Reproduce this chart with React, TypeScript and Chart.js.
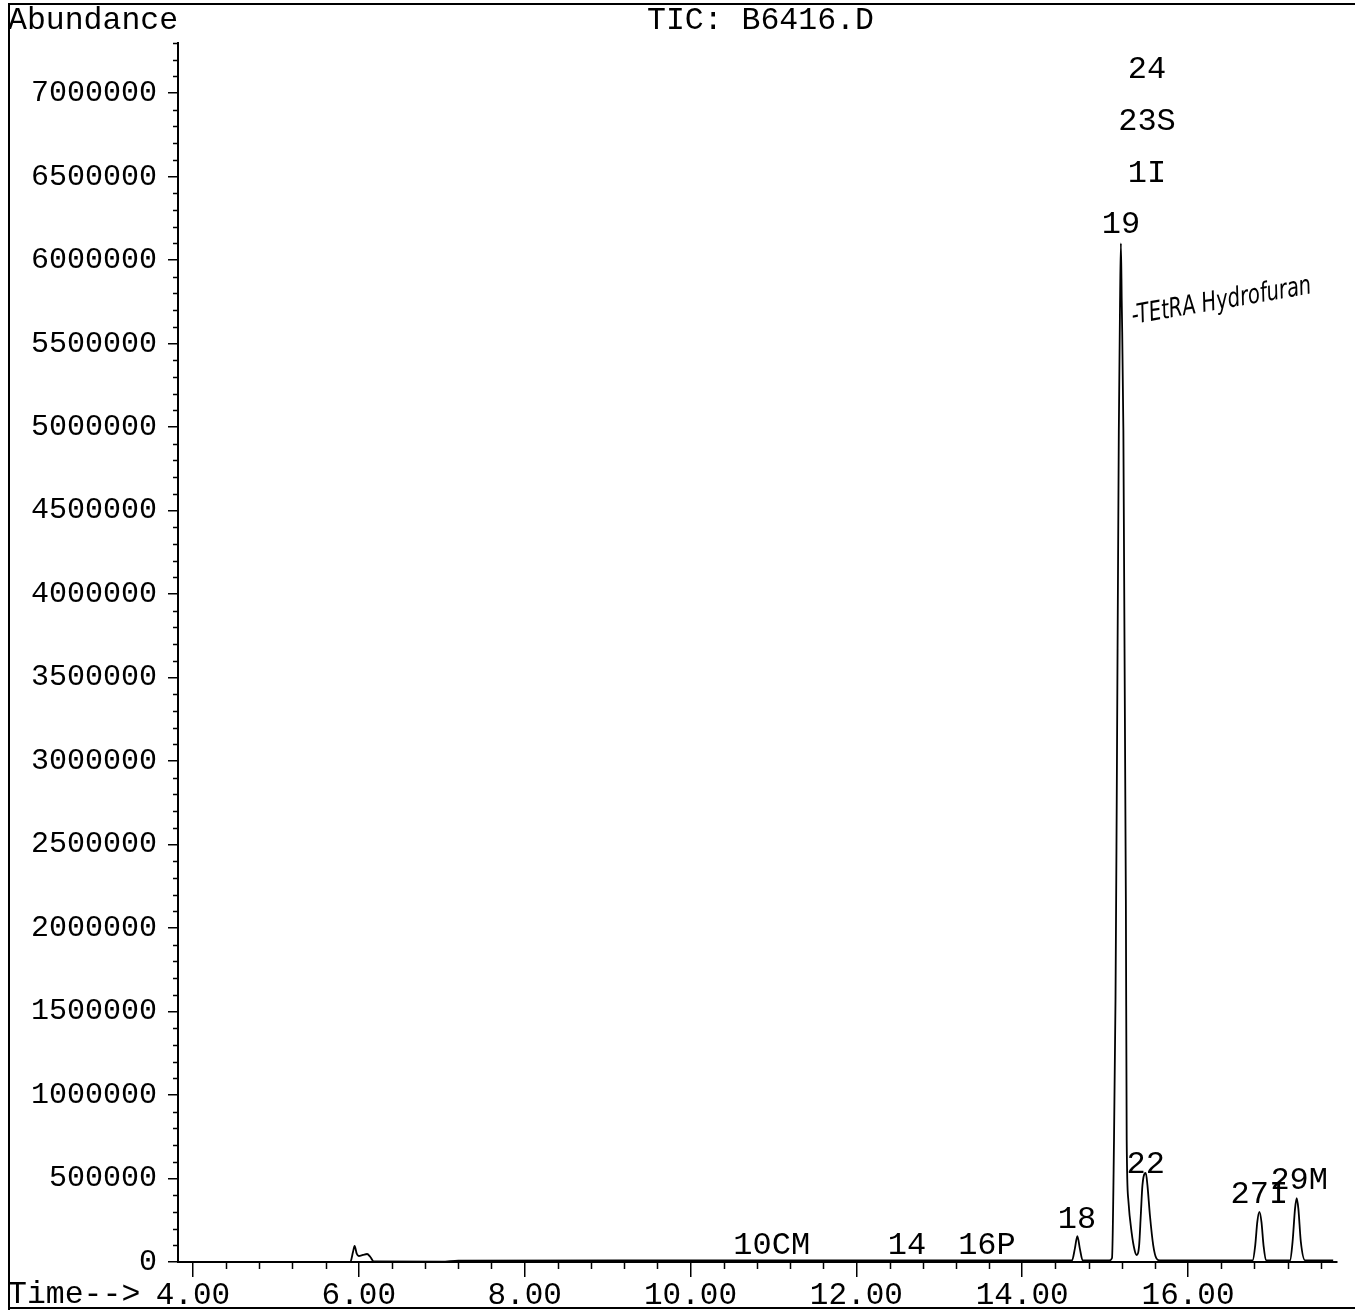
import React, { useEffect, useRef } from 'react';
import { Chart, registerables } from 'chart.js';
Chart.register(...registerables);

// Retention time (min) and total ion abundance
const TIME = [
  3.85, 5.85, 5.90, 5.93, 5.95, 5.975, 6.00, 6.05, 6.10, 6.14, 6.18,
  7.0, 7.2, 10.0, 12.0, 14.55,
  14.60, 14.635, 14.665, 14.695, 14.73,
  15.05, 15.083, 15.107, 15.125, 15.14, 15.165, 15.18, 15.19, 15.20, 15.22, 15.25, 15.26, 15.28, 15.32, 15.355, 15.38,
  15.41, 15.43, 15.45, 15.49, 15.51, 15.54, 15.58, 15.62, 15.66,
  16.75, 16.78, 16.81, 16.835, 16.86, 16.885, 16.91, 16.94,
  17.20, 17.23, 17.26, 17.29, 17.31, 17.33, 17.36, 17.41, 17.75,
];
const ABUNDANCE = [
  0, 0, 2000, 60000, 96000, 50000, 36000, 42000, 48000, 30000, 3000,
  2000, 8000, 9000, 9000, 9000,
  9000, 80000, 155000, 80000, 9000,
  9000, 24000, 730000, 1570000, 2770000, 4980000, 5760000, 6100000, 5760000, 4980000, 2170000, 730000, 370000, 174000, 72000, 42000,
  100000, 280000, 460000, 533000, 460000, 280000, 100000, 20000, 9000,
  9000, 10000, 100000, 240000, 300000, 240000, 100000, 10000,
  9000, 10000, 120000, 320000, 383000, 320000, 120000, 10000, 9000,
];

const X_MAJOR = [4, 6, 8, 10, 12, 14, 16];
const X_MINOR_STEP = 0.4;
const Y_MAJOR = [0, 500000, 1000000, 1500000, 2000000, 2500000, 3000000, 3500000, 4000000, 4500000, 5000000, 5500000, 6000000, 6500000, 7000000];
const Y_MINOR_STEP = 100000;

const PEAK_LABELS = ['10CM', '14', '16P', '18', '19', '1I', '23S', '24', '22', '27I', '29M'];
const PEAK_LABEL_TIME = [10.98, 12.61, 13.575, 14.66, 15.19, 15.505, 15.505, 15.505, 15.49, 16.86, 17.34];
const PEAK_LABEL_ABUND = [48000, 48000, 48000, 204000, 6160000, 6470000, 6780000, 7090000, 533000, 353000, 437000];

const TITLE = 'TIC: B6416.D';
const Y_TITLE = 'Abundance';
const X_TITLE = 'Time-->';
const NOTE = '-TEtRA Hydrofuran';

const FONT = '"Liberation Mono", "Courier New", monospace';

export default function App() {
  const ref = useRef<HTMLCanvasElement | null>(null);
  useEffect(() => {
    if (!ref.current) return;
    const decor = {
      id: 'decor',
      afterDraw(chart: any) {
        const { ctx, scales } = chart;
        const x = scales.x, y = scales.y;
        const area = chart.chartArea;
        ctx.save();
        ctx.strokeStyle = '#000';
        ctx.lineWidth = 1.5;
        ctx.beginPath();
        for (let v = 4; v <= x.max + 1e-9; v += X_MINOR_STEP) {
          const vv = Math.round(v * 10) / 10;
          if (X_MAJOR.includes(vv)) continue;
          const px = Math.round(x.getPixelForValue(vv)) + 0.5;
          ctx.moveTo(px, area.bottom);
          ctx.lineTo(px, area.bottom + 7);
        }
        for (let v = 0; v <= y.max + 1; v += Y_MINOR_STEP) {
          if (Y_MAJOR.includes(v)) continue;
          const py = Math.round(y.getPixelForValue(v)) + 0.5;
          ctx.moveTo(area.left - 5, py);
          ctx.lineTo(area.left, py);
        }
        ctx.stroke();
        // frame
        ctx.lineWidth = 2;
        ctx.beginPath();
        ctx.moveTo(9, 1310);
        ctx.lineTo(9, 4);
        ctx.lineTo(1355, 4);
        ctx.moveTo(9, 1308);
        ctx.lineTo(1355, 1308);
        ctx.stroke();
        // texts
        ctx.fillStyle = '#000';
        ctx.font = `31.5px ${FONT}`;
        ctx.textBaseline = 'alphabetic';
        ctx.textAlign = 'left';
        ctx.fillText(Y_TITLE, 8, 29);
        ctx.fillText(TITLE, 647, 29);
        ctx.fillText(X_TITLE, 8, 1303);
        ctx.font = `32px ${FONT}`;
        ctx.textAlign = 'center';
        PEAK_LABELS.forEach((lab, i) => {
          ctx.fillText(lab, x.getPixelForValue(PEAK_LABEL_TIME[i]), y.getPixelForValue(PEAK_LABEL_ABUND[i]));
        });
        // handwritten note
        ctx.save();
        ctx.translate(1133, 324);
        ctx.rotate(-0.17);
        ctx.font = `italic 27px "DejaVu Sans", sans-serif`;
        ctx.textAlign = 'left';
        const w = ctx.measureText(NOTE).width;
        ctx.scale(182 / w, 1);
        ctx.fillText(NOTE, 0, 0);
        ctx.restore();
        ctx.restore();
      },
    };
    const chart = new Chart(ref.current, {
      type: 'line',
      data: {
        datasets: [
          {
            data: TIME.map((t, i) => ({ x: t, y: ABUNDANCE[i] })),
            borderColor: '#000',
            borderWidth: 1.8,
            pointRadius: 0,
            cubicInterpolationMode: 'monotone',
            fill: false,
          },
        ],
      },
      options: {
        responsive: false,
        animation: false,
        devicePixelRatio: 1,
        layout: { padding: { left: 0, top: 43, right: 18, bottom: 0 } },
        plugins: { legend: { display: false }, tooltip: { enabled: false }, title: { display: false } },
        scales: {
          x: {
            type: 'linear',
            min: 3.82,
            max: 17.796,
            afterFit: (s: any) => { s.height = 48; },
            afterBuildTicks: (s: any) => { s.ticks = X_MAJOR.map((v) => ({ value: v })); },
            ticks: {
              color: '#000',
              font: { family: FONT, size: 31 },
              padding: 0,
              maxRotation: 0,
              autoSkip: false,
              callback: (v: any) => Number(v).toFixed(2),
            },
            grid: { drawOnChartArea: false, drawTicks: true, tickLength: 15, color: '#000', lineWidth: 1.5 },
            border: { display: true, color: '#000', width: 2 },
          },
          y: {
            type: 'linear',
            min: 0,
            max: 7300000,
            afterFit: (s: any) => { s.width = 178; },
            afterBuildTicks: (s: any) => { s.ticks = Y_MAJOR.map((v) => ({ value: v })); },
            ticks: {
              color: '#000',
              font: { family: FONT, size: 30 },
              padding: 11,
              autoSkip: false,
              callback: (v: any) => String(v),
            },
            grid: { drawOnChartArea: false, drawTicks: true, tickLength: 10, color: '#000', lineWidth: 1.5 },
            border: { display: true, color: '#000', width: 2 },
          },
        },
      },
      plugins: [decor],
    } as any);
    return () => chart.destroy();
  }, []);
  return (
    <div style={{ position: 'absolute', left: 0, top: 0, width: 1355, height: 1310, background: '#fff' }}>
      <canvas ref={ref} width={1355} height={1310} />
    </div>
  );
}
